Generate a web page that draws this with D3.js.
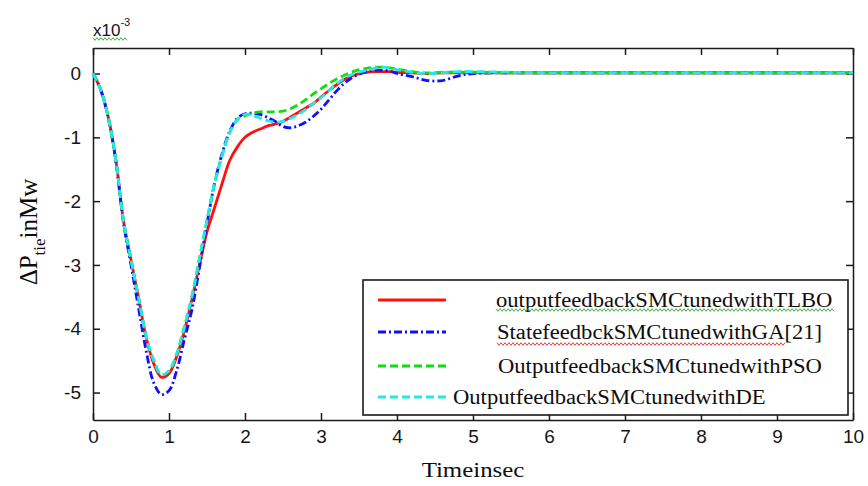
<!DOCTYPE html>
<html>
<head>
  <meta charset="utf-8">
  <title>Tie-line power deviation</title>
  <style>
    body { margin: 0; background: #fff; }
    .axis path, .axis line { fill: none; stroke: #1a1a1a; stroke-width: 1.5; }
    .axis text { font-family: "Liberation Sans", Arial, sans-serif; font-size: 19px; fill: #151515; }
    .serif { font-family: "Liberation Serif", "Times New Roman", serif; fill: #0d0d0d; }
  </style>
  <script src="https://d3js.org/d3.v7.min.js"></script>
</head>
<body>
  <div id="chart"></div>
  <script>
    // time axis (s)
    var time = [0, 0.1, 0.2, 0.3, 0.4, 0.5, 0.6, 0.7, 0.8, 0.9,
                1.0, 1.1, 1.2, 1.3, 1.4, 1.5, 1.6, 1.7, 1.8, 1.9,
                2.0, 2.1, 2.2, 2.3, 2.4, 2.5, 2.6, 2.7, 2.8, 2.9,
                3.0, 3.1, 3.2, 3.3, 3.4, 3.5, 3.6, 3.7, 3.8, 3.9,
                4.0, 4.2, 4.4, 4.6, 4.8, 5.0, 5.5, 6.0, 6.5, 7.0,
                7.5, 8.0, 8.5, 9.0, 9.5, 10.0];

    // delta P tie (x10^-3)
    var tlbo = [0, -0.25, -0.68, -1.35, -2.3, -2.92, -3.52, -4.14, -4.55, -4.76,
                -4.70, -4.44, -4.04, -3.55, -3.0, -2.48, -2.1, -1.72, -1.36, -1.15,
                -1.0, -0.92, -0.87, -0.82, -0.79, -0.75, -0.68, -0.61, -0.54, -0.47,
                -0.37, -0.27, -0.18, -0.1, -0.04, 0.0, 0.02, 0.03, 0.03, 0.03,
                0.02, 0.01, 0.0, 0.01, 0.01, 0.01, 0.01, 0.01, 0.01, 0.01,
                0.01, 0.01, 0.01, 0.01, 0.01, 0.01];
    var ga   = [0, -0.25, -0.69, -1.37, -2.33, -3.0, -3.68, -4.35, -4.85, -5.03,
                -4.97, -4.66, -4.18, -3.71, -3.05, -2.35, -1.72, -1.25, -0.9, -0.7,
                -0.63, -0.62, -0.64, -0.69, -0.75, -0.83, -0.85, -0.82, -0.76, -0.67,
                -0.56, -0.42, -0.28, -0.16, -0.07, -0.01, 0.03, 0.05, 0.05, 0.04,
                0.0, -0.05, -0.11, -0.11, -0.04, 0.0, 0.01, 0.01, 0.01, 0.01,
                0.01, 0.01, 0.01, 0.01, 0.01, 0.01];
    var pso  = [0, -0.25, -0.68, -1.35, -2.3, -2.92, -3.52, -4.12, -4.5, -4.72,
                -4.66, -4.4, -3.98, -3.5, -2.9, -2.3, -1.72, -1.28, -0.92, -0.72,
                -0.66, -0.62, -0.60, -0.60, -0.60, -0.59, -0.55, -0.49, -0.41, -0.32,
                -0.24, -0.16, -0.09, -0.03, 0.02, 0.06, 0.08, 0.10, 0.10, 0.09,
                0.07, 0.03, 0.01, 0.02, 0.02, 0.02, 0.01, 0.01, 0.01, 0.01,
                0.01, 0.01, 0.01, 0.01, 0.01, 0.01];
    var de   = [0, -0.25, -0.68, -1.35, -2.3, -2.92, -3.52, -4.12, -4.5, -4.72,
                -4.66, -4.4, -3.98, -3.5, -2.9, -2.3, -1.72, -1.28, -0.92, -0.72,
                -0.64, -0.66, -0.70, -0.74, -0.76, -0.75, -0.70, -0.64, -0.56, -0.47,
                -0.38, -0.27, -0.17, -0.08, -0.02, 0.02, 0.05, 0.08, 0.10, 0.09,
                0.06, 0.02, 0.0, 0.01, 0.03, 0.03, 0.02, 0.01, 0.01, 0.01,
                0.01, 0.01, 0.01, 0.01, 0.01, 0.01];

    var legendLabels = ["outputfeedbackSMCtunedwithTLBO",
                        "StatefeedbckSMCtunedwithGA[21]",
                        "OutputfeedbackSMCtunedwithPSO",
                        "OutputfeedbackSMCtunedwithDE"];
    var xTicks = [0, 1, 2, 3, 4, 5, 6, 7, 8, 9, 10];
    var yTicks = [-5, -4, -3, -2, -1, 0];

    var series = [
      {values: tlbo, color: "#ff1010", dash: null},
      {values: ga,   color: "#1010ff", dash: "8,3,2,3"},
      {values: pso,  color: "#10dd10", dash: "8,4"},
      {values: de,   color: "#22e8e8", dash: "8,4"}
    ];

    var W = 868, H = 486;
    var margin = {top: 48, right: 15, bottom: 66, left: 93};
    var stretch = 1.13;   // serif text in the picture is a bit wider than normal

    var svg = d3.select("#chart").append("svg")
        .attr("width", W)
        .attr("height", H);

    var x = d3.scaleLinear().domain([0, 10]).range([margin.left, W - margin.right]);
    var y = d3.scaleLinear().domain([-5.43, 0.4]).range([H - margin.bottom, margin.top]);

    function squiggle(x0, x1, yy, color) {
      var pts = [];
      for (var px = x0, k = 0; px <= x1; px += 2, k++) pts.push([px, yy + (k % 2 ? 1.3 : -1.3)]);
      svg.append("path")
        .attr("d", d3.line()(pts))
        .attr("fill", "none")
        .attr("stroke", color)
        .attr("stroke-width", 0.9);
    }

    function widen(sel) {
      sel.each(function() {
        var len = this.getComputedTextLength();
        d3.select(this).attr("textLength", len * stretch).attr("lengthAdjust", "spacingAndGlyphs");
      });
    }

    // axes
    svg.append("g")
      .attr("class", "axis")
      .attr("transform", "translate(0," + y.range()[0] + ")")
      .call(d3.axisBottom(x).tickValues(xTicks).tickSize(-7).tickSizeOuter(0).tickPadding(10)
        .tickFormat(function(d) { return String(d); }));

    svg.append("g")
      .attr("class", "axis")
      .attr("transform", "translate(0," + y.range()[1] + ")")
      .call(d3.axisTop(x).tickValues(xTicks).tickSize(-7).tickSizeOuter(0).tickFormat(""));

    svg.append("g")
      .attr("class", "axis")
      .attr("transform", "translate(" + x.range()[0] + ",0)")
      .call(d3.axisLeft(y).tickValues(yTicks).tickSize(-7).tickSizeOuter(0).tickPadding(12)
        .tickFormat(function(d) { return String(d); }));

    svg.append("g")
      .attr("class", "axis")
      .attr("transform", "translate(" + x.range()[1] + ",0)")
      .call(d3.axisRight(y).tickValues(yTicks).tickSize(-7).tickSizeOuter(0).tickFormat(""));

    // curves
    var line = d3.line()
      .x(function(d) { return x(d[0]); })
      .y(function(d) { return y(d[1]); })
      .curve(d3.curveCatmullRom.alpha(0.5));

    series.forEach(function(s) {
      svg.append("path")
        .datum(time.map(function(t, i) { return [t, s.values[i]]; }))
        .attr("fill", "none")
        .attr("stroke", s.color)
        .attr("stroke-width", 2.8)
        .attr("stroke-dasharray", s.dash)
        .attr("d", line);
    });

    // legend
    var lg = {x0: 363, y0: 280, x1: 848, y1: 415};
    svg.append("rect")
      .attr("x", lg.x0).attr("y", lg.y0)
      .attr("width", lg.x1 - lg.x0).attr("height", lg.y1 - lg.y0)
      .attr("fill", "#fff").attr("stroke", "#1a1a1a").attr("stroke-width", 1.6);

    var rowY = [300, 332, 366, 397];
    var textX = [496, 497, 498, 453];
    series.forEach(function(s, i) {
      svg.append("line")
        .attr("x1", 378).attr("x2", 446)
        .attr("y1", rowY[i]).attr("y2", rowY[i])
        .attr("stroke", s.color)
        .attr("stroke-width", 2.8)
        .attr("stroke-dasharray", s.dash);
      svg.append("text")
        .attr("class", "serif legend-text")
        .attr("x", textX[i])
        .attr("y", rowY[i] + 7)
        .style("font-size", "20px")
        .text(legendLabels[i]);
    });
    widen(svg.selectAll(".legend-text"));
    squiggle(496, 835, 310, "#2ea02e");
    squiggle(497, 785, 344, "#e02828");

    // x10^-3
    var mult = svg.append("text")
      .attr("x", 93).attr("y", 36)
      .style("font-family", "Liberation Sans, Arial, sans-serif")
      .style("font-size", "17px")
      .attr("fill", "#151515");
    mult.append("tspan").text("x10");
    mult.append("tspan").attr("dy", -10).style("font-size", "11px").text("-3");
    squiggle(93, 128, 39, "#2ea02e");

    // axis titles
    var xt = svg.append("text")
      .attr("class", "serif")
      .attr("x", (x.range()[0] + x.range()[1]) / 2)
      .attr("y", 477)
      .attr("text-anchor", "middle")
      .style("font-size", "22px")
      .text("Timeinsec");
    widen(xt);

    var yt = svg.append("text")
      .attr("class", "serif")
      .attr("transform", "translate(37,232) rotate(-90)")
      .attr("text-anchor", "middle")
      .style("font-size", "25px");
    yt.append("tspan").text("\u0394P");
    yt.append("tspan").attr("dy", 8).style("font-size", "17px").text("tie");
    yt.append("tspan").attr("dy", -8).text("inMw");
  </script>
</body>
</html>
